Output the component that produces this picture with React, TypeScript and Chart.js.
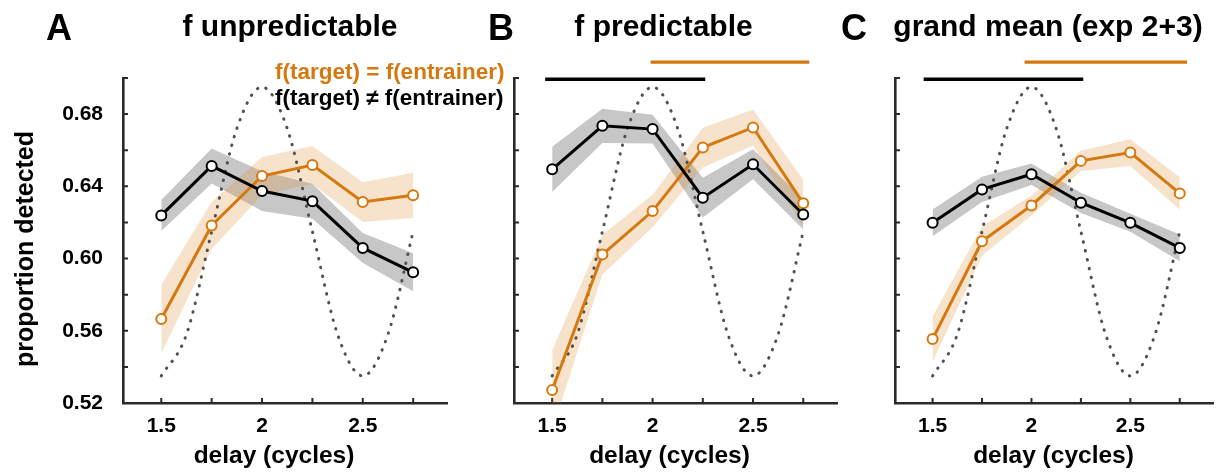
import React, { useEffect, useRef } from 'react';
import { Chart, registerables } from 'chart.js';

Chart.register(...registerables);

const FONT = "'Liberation Sans', Arial, Helvetica, sans-serif";
const ORANGE = '#D4780F';
const ORANGE_BAND = 'rgba(225, 145, 50, 0.25)';
const GRAY_BAND = 'rgba(0, 0, 0, 0.22)';
const AXIS = '#2a2a2a';
const OSC = '#505050';

// x positions (delay in cycles) and tick definitions
const delays = [1.5, 1.75, 2, 2.25, 2.5, 2.75];
const xTickValues = [1.5, 1.75, 2, 2.25, 2.5, 2.75];
const xTickLabels = ['1.5', '', '2', '', '2.5', ''];
const yTickValues = [0.52, 0.54, 0.56, 0.58, 0.6, 0.62, 0.64, 0.66, 0.68, 0.7];
const yTickLabels = ['0.52', '', '0.56', '', '0.60', '', '0.64', '', '0.68', ''];

// dotted reference oscillation
const oscX = [1.5, 1.625, 1.75, 1.875, 2, 2.125, 2.25, 2.375, 2.5, 2.625, 2.75];
const oscY = [0.535, 0.558, 0.615, 0.672, 0.695, 0.672, 0.615, 0.558, 0.535, 0.558, 0.615];

// Panel A: f unpredictable
const aSameMean = [0.5665, 0.6183, 0.6457, 0.6518, 0.6313, 0.635];
const aSameErr = [0.019, 0.013, 0.0105, 0.0105, 0.011, 0.0125];
const aDiffMean = [0.6239, 0.6513, 0.6374, 0.6318, 0.6059, 0.5924];
const aDiffErr = [0.0086, 0.0097, 0.011, 0.0097, 0.0083, 0.0105];

// Panel B: f predictable
const bSameMean = [0.5272, 0.6022, 0.6263, 0.6615, 0.6726, 0.6306];
const bSameErr = [0.022, 0.011, 0.009, 0.011, 0.01, 0.013];
const bDiffMean = [0.6494, 0.6735, 0.6717, 0.6337, 0.6522, 0.6244];
const bDiffErr = [0.0125, 0.0095, 0.008, 0.011, 0.0083, 0.0083];
const bSigDiff = [1.465, 2.262];
const bSigSame = [1.99, 2.78];

// Panel C: grand mean (exp 2+3)
const cSameMean = [0.5554, 0.6096, 0.6294, 0.6541, 0.6587, 0.6361];
const cSameErr = [0.0125, 0.008, 0.0055, 0.0056, 0.0074, 0.009];
const cDiffMean = [0.6198, 0.6383, 0.6467, 0.6309, 0.6198, 0.6059];
const cDiffErr = [0.0074, 0.007, 0.006, 0.0056, 0.005, 0.0074];
const cSigDiff = [1.455, 2.262];
const cSigSame = [1.965, 2.787];

const sigLevelDiff = 0.6993;
const sigLevelSame = 0.7088;

const innerTicks = {
  id: 'innerTicks',
  beforeDatasetsDraw(chart: any) {
    const { ctx, chartArea, scales } = chart;
    const xs = scales.x;
    const ys = scales.y;
    ctx.save();
    ctx.strokeStyle = AXIS;
    ctx.lineWidth = 2;
    ctx.beginPath();
    xs.ticks.forEach((_t: any, i: number) => {
      const px = xs.getPixelForTick(i);
      ctx.moveTo(px, chartArea.bottom);
      ctx.lineTo(px, chartArea.bottom - 5);
    });
    ys.ticks.forEach((_t: any, i: number) => {
      const py = ys.getPixelForTick(i);
      ctx.moveTo(chartArea.left, py);
      ctx.lineTo(chartArea.left + 5, py);
    });
    ctx.stroke();
    ctx.restore();
  },
};

function pts(xv: number[], yv: number[]) {
  return xv.map((x, i) => ({ x, y: yv[i] }));
}

function buildDatasets(
  sameMean: number[], sameErr: number[], diffMean: number[], diffErr: number[],
  sigDiff: number[] | null, sigSame: number[] | null
) {
  const lo = (m: number[], e: number[]) => m.map((v, i) => v - e[i]);
  const hi = (m: number[], e: number[]) => m.map((v, i) => v + e[i]);
  const band = (data: any, color: string, fill: any) => ({
    data, borderWidth: 0, borderColor: 'transparent', backgroundColor: color,
    pointRadius: 0, fill, tension: 0, order: 6,
  });
  const ds: any[] = [
    band(pts(delays, lo(sameMean, sameErr)), ORANGE_BAND, false),
    band(pts(delays, hi(sameMean, sameErr)), ORANGE_BAND, '-1'),
    band(pts(delays, lo(diffMean, diffErr)), GRAY_BAND, false),
    band(pts(delays, hi(diffMean, diffErr)), GRAY_BAND, '-1'),
    {
      data: pts(oscX, oscY), borderColor: OSC, borderWidth: 3, borderDash: [0.5, 8.5],
      borderCapStyle: 'round', cubicInterpolationMode: 'monotone', pointRadius: 0,
      fill: false, order: 4,
    },
    {
      data: pts(delays, sameMean), borderColor: ORANGE, borderWidth: 3, fill: false,
      pointRadius: 5, pointBorderWidth: 2, pointBorderColor: ORANGE,
      pointBackgroundColor: '#ffffff', order: 3,
    },
    {
      data: pts(delays, diffMean), borderColor: '#000000', borderWidth: 3, fill: false,
      pointRadius: 5, pointBorderWidth: 2, pointBorderColor: '#000000',
      pointBackgroundColor: '#ffffff', order: 2,
    },
  ];
  if (sigDiff) {
    ds.push({
      data: pts(sigDiff, [sigLevelDiff, sigLevelDiff]), borderColor: '#000000', borderWidth: 3.6,
      pointRadius: 0, fill: false, clip: false, order: 1,
    });
  }
  if (sigSame) {
    ds.push({
      data: pts(sigSame, [sigLevelSame, sigLevelSame]), borderColor: ORANGE, borderWidth: 3.2,
      pointRadius: 0, fill: false, clip: false, order: 1,
    });
  }
  return ds;
}

type PanelProps = {
  left: number; width: number; yAxisWidth: number; padRight: number;
  showY: boolean; datasets: any[];
};

function Panel({ left, width, yAxisWidth, padRight, showY, datasets }: PanelProps) {
  const ref = useRef<HTMLCanvasElement | null>(null);
  useEffect(() => {
    if (!ref.current) return;
    const tickFont = { family: FONT, size: 21, weight: 'bold' as const };
    const chart = new Chart(ref.current, {
      type: 'line',
      data: { datasets },
      options: {
        responsive: false,
        animation: false,
        events: [],
        layout: { padding: { left: 0, right: padRight, top: 78, bottom: 0 } },
        plugins: { legend: { display: false }, tooltip: { enabled: false }, title: { display: false } },
        scales: {
          x: {
            type: 'linear', min: 1.31, max: 2.918,
            afterBuildTicks: (s: any) => { s.ticks = xTickValues.map((v) => ({ value: v })); },
            afterFit: (s: any) => { s.height = 72; },
            grid: { display: false, drawTicks: false },
            border: { display: true, color: AXIS, width: 2.6 },
            ticks: {
              autoSkip: false, maxRotation: 0, minRotation: 0, padding: 11, color: '#000',
              font: tickFont,
              callback: (v: any) => {
                const i = xTickValues.findIndex((t) => Math.abs(t - Number(v)) < 1e-9);
                return i >= 0 ? xTickLabels[i] : '';
              },
            },
          },
          y: {
            type: 'linear', min: 0.52, max: 0.7,
            afterBuildTicks: (s: any) => { s.ticks = yTickValues.map((v) => ({ value: v })); },
            afterFit: (s: any) => { s.width = yAxisWidth; },
            grid: { display: false, drawTicks: false },
            border: { display: true, color: AXIS, width: 2.6 },
            ticks: {
              autoSkip: false, padding: 20, color: '#000', font: tickFont,
              callback: (v: any) => {
                if (!showY) return '';
                const i = yTickValues.findIndex((t) => Math.abs(t - Number(v)) < 1e-9);
                return i >= 0 ? yTickLabels[i] : '';
              },
            },
          },
        },
      } as any,
      plugins: [innerTicks],
    });
    return () => chart.destroy();
  }, []);
  return (
    <canvas
      ref={ref}
      width={width}
      height={475}
      style={{ position: 'absolute', left, top: 0, width, height: 475 }}
    />
  );
}

const textBase: React.CSSProperties = {
  position: 'absolute', fontFamily: FONT, fontWeight: 'bold', lineHeight: 1,
  whiteSpace: 'nowrap', color: '#000',
};

export default function App() {
  const dsA = buildDatasets(aSameMean, aSameErr, aDiffMean, aDiffErr, null, null);
  const dsB = buildDatasets(bSameMean, bSameErr, bDiffMean, bDiffErr, bSigDiff, bSigSame);
  const dsC = buildDatasets(cSameMean, cSameErr, cDiffMean, cDiffErr, cSigDiff, cSigSame);
  return (
    <div style={{ position: 'absolute', left: 0, top: 0, width: 1220, height: 475, background: '#fff', overflow: 'hidden' }}>
      <Panel left={0} width={460} yAxisWidth={123} padRight={13} showY={true} datasets={dsA} />
      <Panel left={460} width={390} yAxisWidth={54} padRight={13} showY={false} datasets={dsB} />
      <Panel left={850} width={370} yAxisWidth={45} padRight={1} showY={false} datasets={dsC} />

      <div style={{ ...textBase, left: 46, top: 9.5, fontSize: 36 }}>A</div>
      <div style={{ ...textBase, left: 488, top: 9.5, fontSize: 36 }}>B</div>
      <div style={{ ...textBase, left: 841, top: 9.5, fontSize: 36 }}>C</div>

      <div style={{ ...textBase, left: 290, top: 10.6, fontSize: 30, transform: 'translateX(-50%)' }}>f unpredictable</div>
      <div style={{ ...textBase, left: 663.5, top: 10.6, fontSize: 30, transform: 'translateX(-50%)' }}>f predictable</div>
      <div style={{ ...textBase, left: 1048, top: 10.6, fontSize: 30, transform: 'translateX(-50%)' }}>grand mean (exp 2+3)</div>

      <div style={{ ...textBase, left: 275, top: 60.6, fontSize: 22.5, color: ORANGE }}>f(target) = f(entrainer)</div>
      <div style={{ ...textBase, left: 275, top: 87, fontSize: 22.5 }}>f(target) ≠ f(entrainer)</div>

      <div style={{ ...textBase, left: 24 - 150, top: 249 - 15, width: 300, height: 30, lineHeight: '30px', textAlign: 'center', fontSize: 25, transform: 'rotate(-90deg)' }}>proportion detected</div>

      <div style={{ ...textBase, left: 274, top: 443, fontSize: 24.5, transform: 'translateX(-50%)' }}>delay (cycles)</div>
      <div style={{ ...textBase, left: 669.5, top: 443, fontSize: 24.5, transform: 'translateX(-50%)' }}>delay (cycles)</div>
      <div style={{ ...textBase, left: 1053.5, top: 443, fontSize: 24.5, transform: 'translateX(-50%)' }}>delay (cycles)</div>
    </div>
  );
}
